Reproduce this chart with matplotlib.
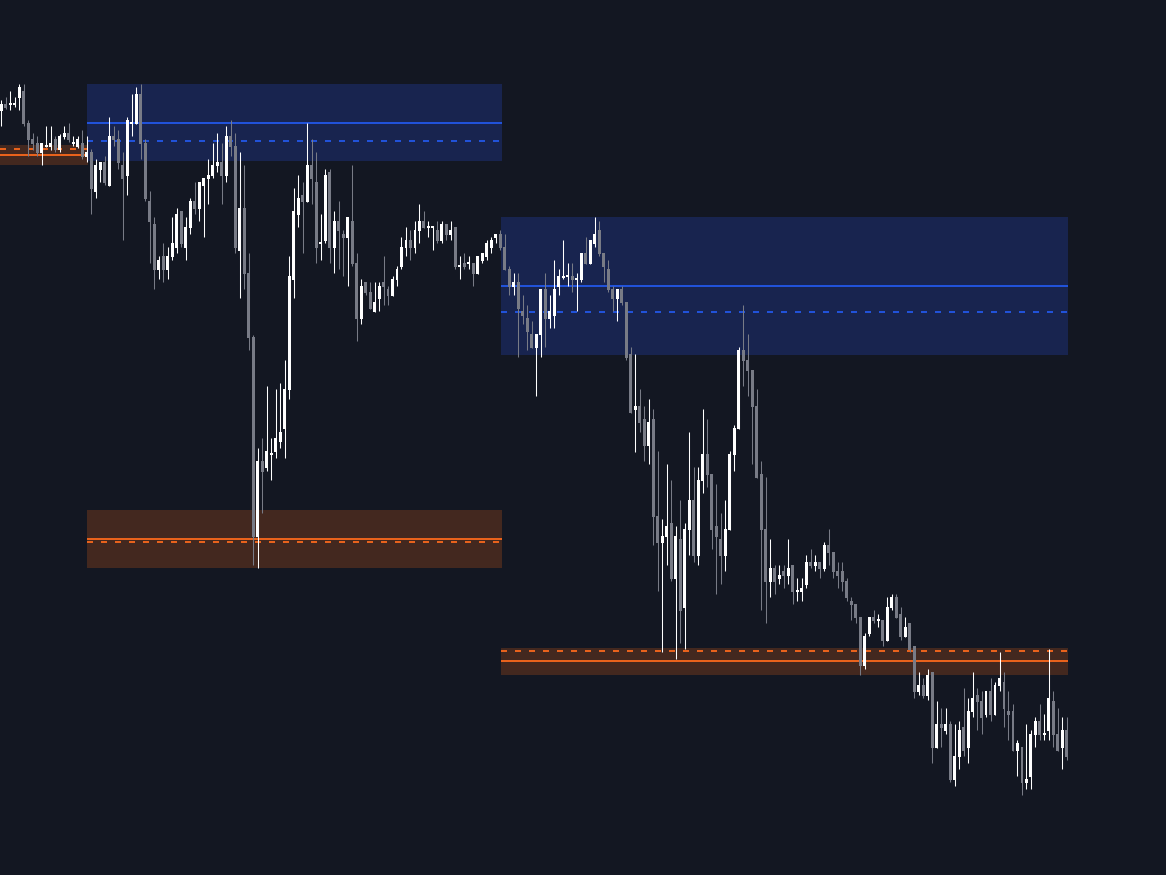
import matplotlib
matplotlib.use("Agg")
import matplotlib.pyplot as plt

# ---- candle data (price units) ----
opens = [889.3, 896, 895.5, 895.5, 902, 909, 877, 861, 857, 847, 853.5, 853, 861, 850, 863, 867, 856.5, 853, 857, 843,
         848, 808, 830, 838, 814, 864, 861, 835, 824, 876.5, 876, 906, 857, 799, 776, 730, 744, 730, 743, 752,
         789, 752, 772, 799, 791, 814, 821, 824, 834, 838, 824, 864, 854, 749, 792, 727, 663, 463, 539, 532,
         545.5, 548, 558, 571, 610, 720, 785, 805, 798, 835, 818, 756.5, 759, 828, 752, 779, 766, 762, 779, 737,
         681, 718, 708, 688, 701, 718, 711, 704, 720, 733, 752, 760, 752, 769, 779, 772.5, 772.5, 770, 759, 776,
         765, 773, 733.5, 737, 736.5, 737, 726, 739, 743, 752, 762, 766, 753, 731, 713, 718, 689, 682, 666, 652,
         665, 711, 681, 684, 713, 722.5, 723.5, 724, 720.5, 720, 747, 736, 756, 770, 747, 731, 711, 701, 711, 698,
         646, 590, 594, 581, 554, 581, 484, 457, 463, 477, 421, 461, 392, 470, 500, 444, 519, 546, 526, 474,
         461, 444, 470, 545, 571, 650, 640, 630, 594, 526, 471, 418, 432, 421, 429, 424, 435, 408.5, 408, 415,
         438, 434, 438, 431, 455, 448, 429, 429, 419, 399, 396, 383, 334, 366, 383, 379.5, 380, 359, 392, 403,
         386, 363, 377, 354, 308, 315, 304, 328, 252, 276, 269, 276, 220, 243, 273, 252, 288, 305, 299, 285,
         309, 285, 314, 318, 289, 289, 249, 253, 217, 223, 265, 279, 265.5, 269, 299, 266, 252, 270]
highs = [900, 902.7, 909, 902.7, 916, 916, 880, 867, 864, 857, 874, 874, 864, 866, 874, 877, 864, 864, 870, 864,
         851, 841, 838, 844, 883, 874, 870, 848, 883, 906, 913, 916, 861, 809, 783, 744, 757, 753, 783, 792,
         789, 783, 802, 818, 818, 822, 841, 857, 867, 857, 874, 880, 867, 848, 835, 747, 665, 552, 562, 614,
         562, 611, 617, 640, 744, 812, 825, 818, 877, 861, 848, 786, 831, 831, 789, 799, 770, 783, 835, 747,
         721, 718, 718, 718, 718, 744, 714, 724, 734, 763, 773, 770, 779, 796, 789, 779, 773, 779, 779, 776,
         779, 773, 744, 747, 744, 737, 744, 747, 760, 763, 766, 770, 766, 734, 727, 727, 705, 695, 679, 666,
         711, 727, 705, 740, 731, 760, 737, 737, 727, 747, 763, 760, 783, 779, 747, 740, 714, 711, 714, 698,
         653, 646, 611, 594, 601, 591, 549, 481, 536, 520, 474, 500, 477, 568, 533, 533, 591, 581, 526, 516,
         487, 500, 549, 575, 653, 695, 666, 630, 611, 539, 523, 461, 435, 435, 435, 461, 435, 422, 422, 445,
         451, 445, 438, 458, 471, 448, 438, 438, 422, 403, 396, 383, 367, 383, 390, 386, 380, 403, 406, 406,
         393, 383, 377, 354, 328, 322, 331, 328, 299, 292, 292, 279, 276, 279, 312, 302, 328, 312, 309, 309,
         322, 318, 348, 328, 309, 296, 260, 253, 276, 270, 283, 296, 286, 351, 309, 292, 283, 283]
lows = [874.3, 890.7, 890, 893.3, 890, 874, 844, 850, 844, 835, 853, 850, 848, 848, 861, 858, 854, 852, 841, 838,
        786, 802, 818, 815, 814, 854, 831, 760, 805, 864, 876, 841, 799, 737, 711, 721, 718, 721, 740, 747,
        753, 740, 766, 786, 779, 763, 796, 822, 828, 796, 818, 844, 747, 702, 711, 650, 435, 432, 487, 529,
        520, 542, 552, 542, 601, 702, 773, 747, 798, 796, 737, 740, 757, 737, 727, 731, 724, 714, 734, 659,
        676, 705, 691, 688, 689, 695, 695, 704, 714, 731, 744, 740, 747, 757, 772, 763, 750, 757, 757, 760,
        760, 731, 721, 731, 731, 714, 726, 737, 740, 747, 757, 750, 730, 705, 705, 643, 676, 650, 652, 604,
        643, 653, 672, 672, 705, 721, 714, 708, 689, 718, 736, 736, 753, 744, 718, 708, 689, 679, 695, 640,
        587, 548, 568, 539, 536, 455, 409, 348, 435, 419, 341, 357, 351, 445, 438, 435, 507, 513, 451, 406,
        416, 429, 470, 529, 571, 614, 604, 536, 522, 390, 377, 403, 406, 416, 412, 416, 396, 399, 399, 412,
        432, 429, 422, 429, 435, 422, 412, 409, 399, 380, 377, 325, 331, 364, 377, 373, 354, 359, 390, 382,
        360, 363, 348, 302, 305, 302, 300, 237, 252, 253, 266, 218, 214, 231, 244, 237, 283, 270, 266, 283,
        279, 285, 309, 273, 260, 249, 224, 205, 211, 211, 253, 260, 260, 260, 253, 249, 231, 240]
closes = [896, 892, 896, 896, 913, 876, 860, 856, 847, 857, 854, 857, 850, 864, 867, 860, 857, 861, 843, 848,
          811, 835, 838, 817, 864, 860, 837, 821, 880, 877, 906, 856, 801, 778, 730, 740, 730, 744, 757, 786,
          756, 773, 799, 791, 818, 822, 825, 835, 838, 824, 864, 853, 752, 792, 726, 662, 463, 539, 528, 549,
          546, 562, 568, 611, 724, 789, 802, 798, 835, 821, 752, 757, 825, 752, 779, 769, 762, 783, 736, 681,
          714, 707, 691, 698, 714, 713, 704, 721, 731, 753, 760, 752, 770, 779, 772, 773, 773, 759, 776, 765,
          770, 733, 734, 733, 737, 726, 744, 747, 757, 760, 766, 752, 730, 713, 718, 691, 684, 668, 652, 666,
          711, 681, 689, 711, 724, 723, 724, 720, 721, 747, 736, 760, 766, 746, 733, 710, 701, 711, 697, 642,
          587, 594, 577, 554, 578, 483, 457, 464, 474, 421, 464, 389, 471, 500, 444, 520, 546, 525, 470, 463,
          444, 471, 546, 572, 650, 639, 629, 593, 522, 470, 418, 432, 418, 425, 424, 432, 408, 409, 412, 438,
          434, 438, 431, 455, 447, 428, 424, 418, 402, 395, 382, 334, 364, 383, 379, 380, 359, 393, 403, 382,
          363, 373, 350, 308, 315, 304, 325, 252, 276, 272, 276, 220, 244, 270, 249, 289, 302, 298, 282, 309,
          285, 315, 322, 291, 285, 249, 257, 217, 221, 266, 279, 265, 266, 302, 265, 249, 270, 243]

# ---- zones: (start bar, end bar, top, bottom, solid level, dashed level) ----
supply_zones = [(19.05, 111.3, 916, 839, 877, 859),
                (111.1, 237.2, 783, 645, 714.3, 688.3)]
demand_zones = [(-0.3, 19.2, 855, 835, 844.7, 851.3),
                (19.05, 111.3, 490, 432, 461.3, 458.3),
                (111.1, 237.2, 352, 325, 338.7, 349)]

BG = "#131722"
UP = "#ffffff"
DOWN = "#787b86"
BLUE_FILL = "#18244f"
BLUE_LINE = "#2152d9"
ORANGE_FILL = "#43281f"
ORANGE_LINE = "#e8621c"

fig = plt.figure(figsize=(11.66, 8.75), dpi=100, facecolor=BG)
ax = fig.add_axes([0, 0, 1, 1])
ax.set_facecolor(BG)
ax.axis("off")

for zones, fill, line in ((supply_zones, BLUE_FILL, BLUE_LINE), (demand_zones, ORANGE_FILL, ORANGE_LINE)):
    for x0, x1, top, bot, solid, dashed in zones:
        ax.fill_between([x0, x1], bot, top, color=fill, lw=0, zorder=1)
        ax.plot([x0, x1], [solid, solid], color=line, lw=1.44, zorder=2, solid_capstyle="butt")
        ax.plot([x0, x1], [dashed, dashed], color=line, lw=1.44, zorder=2,
                linestyle=(0, (3, 4)), dash_capstyle="butt")

n = len(opens)
xs = list(range(n))
colors = [UP if c > o else DOWN for o, c in zip(opens, closes)]
ax.vlines(xs, lows, highs, colors=colors, lw=0.75, zorder=3)
bottoms = [min(o, c) for o, c in zip(opens, closes)]
heights = [max(abs(c - o), 1.3) for o, c in zip(opens, closes)]
ax.bar(xs, heights, bottom=bottoms, width=0.66, color=colors, lw=0, zorder=4)

ax.set_xlim(-0.296, 259.03)
ax.set_ylim(125, 1000)

fig.savefig("out.png", dpi=100, facecolor=BG)
